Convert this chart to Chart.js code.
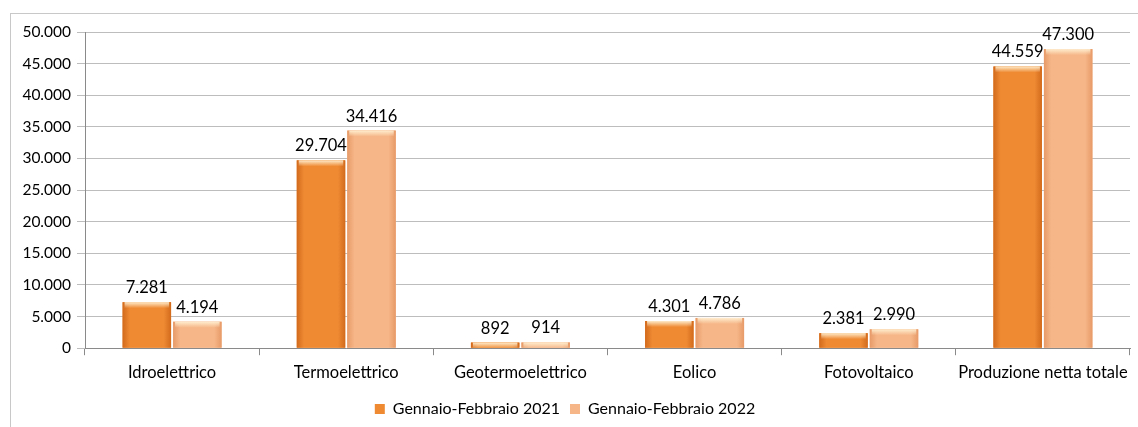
<!DOCTYPE html>
<html>
<head>
<meta charset="utf-8">
<script src="https://cdn.jsdelivr.net/npm/chart.js@4/dist/chart.umd.min.js"></script>
<style>
  html, body { margin: 0; padding: 0; background: #fff; }
  #wrap { position: relative; width: 1138px; height: 427px; }
</style>
</head>
<body>
<div id="wrap"><canvas id="barChart" width="1138" height="427"></canvas></div>
<script>
// Produzione netta di energia elettrica (GWh) - Gennaio-Febbraio
const categorie = ['Idroelettrico', 'Termoelettrico', 'Geotermoelettrico', 'Eolico', 'Fotovoltaico', 'Produzione netta totale'];
const valori2021 = [7281, 29704, 892, 4301, 2381, 44559];
const valori2022 = [4194, 34416, 914, 4786, 2990, 47300];
const etichette = ['Gennaio-Febbraio 2021', 'Gennaio-Febbraio 2022'];

const FONT = 'Lato, "Open Sans", sans-serif';

// separatore delle migliaia con il punto
function formatta(v) {
    return String(Math.round(v)).replace(/\B(?=(\d{3})+(?!\d))/g, '.');
}

// gradiente orizzontale per ogni barra (bordi più scuri)
function gradiente(ctx, el, scuro, chiaro) {
    const g = ctx.createLinearGradient(el.x - el.width / 2, 0, el.x + el.width / 2, 0);
    g.addColorStop(0, scuro);
    g.addColorStop(0.15, chiaro);
    g.addColorStop(0.85, chiaro);
    g.addColorStop(1, scuro);
    return g;
}

// cornice grigia attorno al grafico
const cornice = {
    id: 'cornice',
    beforeDraw(chart) {
        const c = chart.ctx;
        c.save();
        c.strokeStyle = '#c8c8c8';
        c.lineWidth = 1;
        c.strokeRect(10.5, 13.5, 1140, 430);
        c.restore();
    }
};

// ridisegna le barre con effetto rilievo ed etichette dei valori
const rilievo = {
    id: 'rilievo',
    afterDatasetsDraw(chart) {
        const c = chart.ctx;
        const colori = [['#d26a1c', '#ef8a33'], ['#e79a68', '#f6b688']];
        chart.data.datasets.forEach((ds, i) => {
            chart.getDatasetMeta(i).data.forEach((el, j) => {
                const left = el.x - el.width / 2;
                const h = el.base - el.y;
                c.save();
                c.fillStyle = gradiente(c, el, colori[i][0], colori[i][1]);
                c.fillRect(left, el.y, el.width, h);
                // striscia chiara in alto
                const top = c.createLinearGradient(0, el.y, 0, el.y + 6);
                top.addColorStop(0, 'rgba(255,240,210,0.95)');
                top.addColorStop(1, 'rgba(255,240,210,0)');
                c.fillStyle = top;
                c.fillRect(left + 2, el.y, el.width - 4, Math.min(6, h));
                c.fillStyle = '#000';
                c.font = '16.5px ' + FONT;
                c.textAlign = 'center';
                c.textBaseline = 'bottom';
                c.fillText(formatta(ds.data[j]), el.x, el.y - 6);
                c.restore();
            });
        });
    }
};

const barChart = new Chart(document.getElementById('barChart').getContext('2d'), {
    type: 'bar',
    data: {
        labels: categorie,
        datasets: [{
            label: etichette[0],
            data: valori2021,
            backgroundColor: '#ef8a33',
            borderWidth: 0,
            barPercentage: 0.96,
            categoryPercentage: 0.58
        }, {
            label: etichette[1],
            data: valori2022,
            backgroundColor: '#f6b688',
            borderWidth: 0,
            barPercentage: 0.96,
            categoryPercentage: 0.58
        }]
    },
    options: {
        responsive: false,
        animation: false,
        layout: { padding: { left: 0, right: 8, top: 32, bottom: 0 } },
        plugins: {
            tooltip: { enabled: false },
            legend: {
                position: 'bottom',
                labels: {
                    font: { family: FONT, size: 16 },
                    color: '#000',
                    boxWidth: 10,
                    boxHeight: 10,
                    padding: 10
                }
            }
        },
        scales: {
            x: {
                grid: {
                    offset: true,
                    drawOnChartArea: false,
                    drawTicks: true,
                    tickLength: 7,
                    color: '#8a8a8a'
                },
                border: { color: '#8a8a8a' },
                ticks: {
                    font: { family: FONT, size: 16.5 },
                    color: '#000',
                    padding: 8,
                    maxRotation: 0
                }
            },
            y: {
                min: 0,
                max: 50000,
                afterFit(scale) { scale.width = 85; },
                grid: { color: '#bdbdbd', tickLength: 8 },
                border: { color: '#8a8a8a' },
                ticks: {
                    stepSize: 5000,
                    font: { family: FONT, size: 15.5 },
                    color: '#000',
                    padding: 6,
                    callback: v => formatta(v)
                }
            }
        }
    },
    plugins: [cornice, rilievo]
});
</script>
</body>
</html>
